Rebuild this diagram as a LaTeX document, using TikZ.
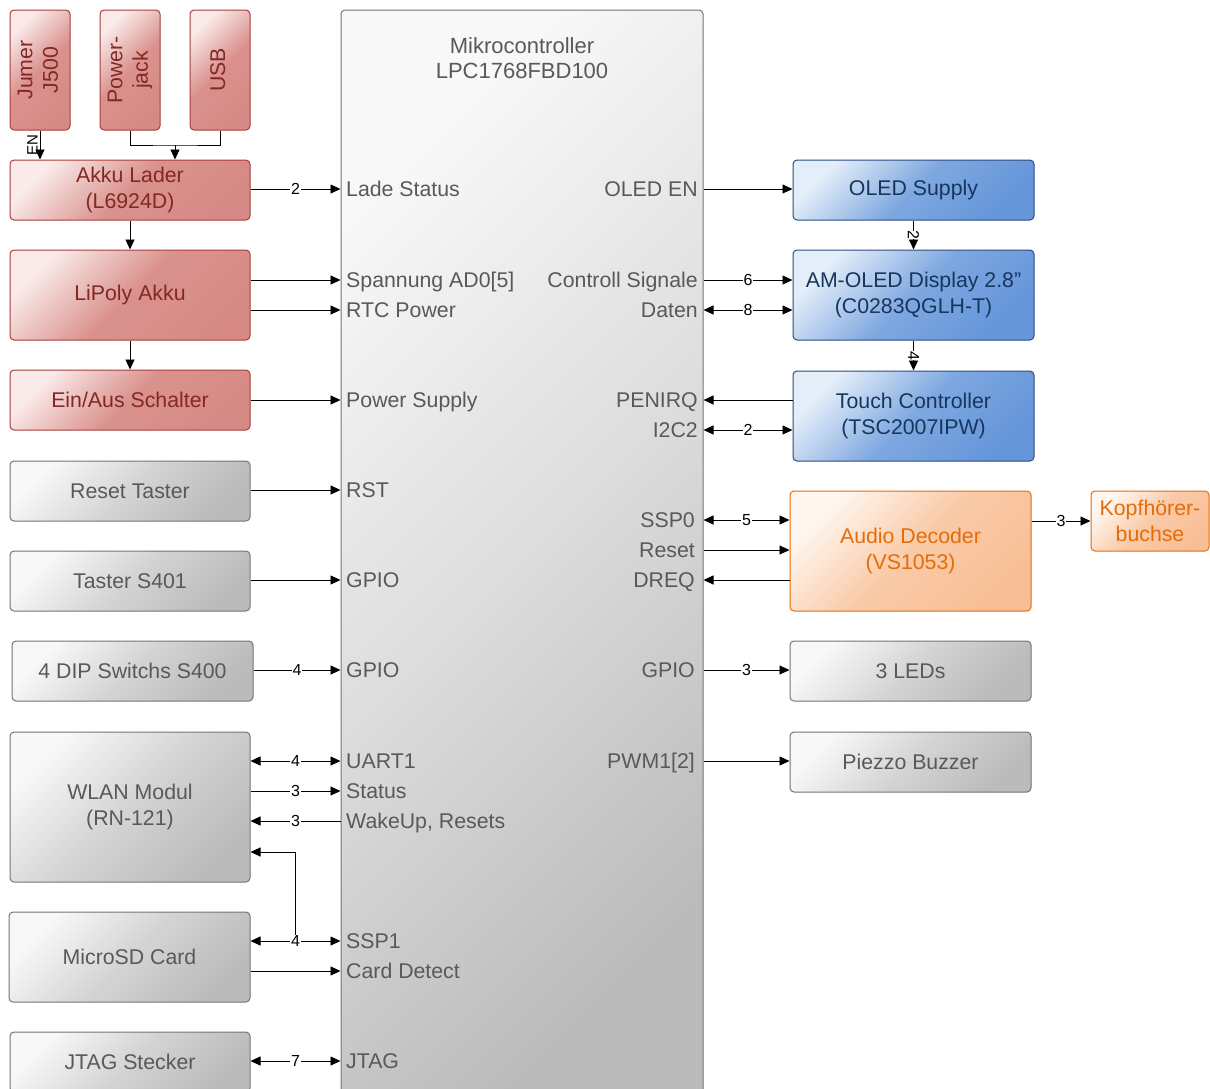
\documentclass[tikz,border=0pt]{standalone}
\usepackage{graphicx}
\usepackage{fontspec}
\setmainfont{Liberation Sans}
\usetikzlibrary{arrows.meta}
\definecolor{redline}{HTML}{A63E3A}
\definecolor{redtext}{HTML}{832824}
\definecolor{redlight}{HTML}{FAEAE9}
\definecolor{reddark}{HTML}{D78A85}
\definecolor{grayline}{HTML}{747474}
\definecolor{graytext}{HTML}{595959}
\definecolor{graylight}{HTML}{F8F8F8}
\definecolor{graydark}{HTML}{BBBBBB}
\definecolor{blueline}{HTML}{2C4B82}
\definecolor{bluetext}{HTML}{17365D}
\definecolor{bluelight}{HTML}{E4EEF9}
\definecolor{bluedark}{HTML}{6596DA}
\definecolor{orangeline}{HTML}{E46C0A}
\definecolor{orangelight}{HTML}{FFF6EF}
\definecolor{orangedark}{HTML}{F8BF96}
\newcommand{\vtext}[1]{\rotatebox{90}{\begin{tabular}{@{}c@{}}#1\end{tabular}}}

\begin{document}
\begin{tikzpicture}[x=1pt,y=-1pt,
  box/.style={draw, rounded corners=4pt, line width=1pt, inner sep=0pt, align=center, font=\fontsize{21.3}{25.5}\selectfont},
  redbox/.style={box, draw=redline, text=redtext, top color=redlight, bottom color=reddark, middle color=reddark!92!redlight, shading angle=45},
  graybox/.style={box, draw=grayline, text=graytext, top color=graylight, bottom color=graydark, middle color=graydark!60!graylight, shading angle=45},
  bluebox/.style={box, draw=blueline, text=bluetext, top color=bluelight, bottom color=bluedark, middle color=bluedark!80!bluelight, shading angle=45},
  orangebox/.style={box, draw=orangeline, text=orangeline, top color=orangelight, bottom color=orangedark, middle color=orangedark!80!orangelight, shading angle=45},
  pinl/.style={anchor=west, inner sep=0pt, text height=15pt, text depth=0pt, text=graytext, font=\fontsize{21.3}{25}\selectfont},
  pinr/.style={pinl, anchor=east},
  lbl/.style={fill=white, inner sep=1pt, font=\fontsize{16}{16}\selectfont},
  wire/.style={line width=0.9pt},
  arr/.style={wire, -{Triangle[length=10pt,width=9pt]}},
  darr/.style={wire, {Triangle[length=10pt,width=9pt]}-{Triangle[length=10pt,width=9pt]}}]
\useasboundingbox (0,0) rectangle (1210,1088);
\clip (0,0) rectangle (1210,1088);

\node[graybox, minimum width=362pt, minimum height=1100pt, middle color=graydark!45!graylight] (mcu) at (522,560) {};
\node[text=graytext, align=center, font=\fontsize{22}{25}\selectfont] (title) at (522,58) {Mikrocontroller\\LPC1768FBD100};

\node[redbox, minimum width=60pt, minimum height=120pt] (jumer) at (40,70) {\vtext{Jumer\\J500}};
\node[redbox, minimum width=60pt, minimum height=120pt] (pjack) at (130,70) {\vtext{Power-\\jack}};
\node[redbox, minimum width=60pt, minimum height=120pt] (usb) at (220,70) {\vtext{USB}};
\node[redbox, minimum width=240pt, minimum height=60pt] (akku) at (130,190) {Akku Lader\\(L6924D)};
\node[redbox, minimum width=240pt, minimum height=90pt] (lipoly) at (130,295) {LiPoly Akku};
\node[redbox, minimum width=240pt, minimum height=60pt] (einaus) at (130,400) {Ein/Aus Schalter};
\node[graybox, minimum width=240pt, minimum height=60pt] (reset) at (130,491) {Reset Taster};
\node[graybox, minimum width=240pt, minimum height=60pt] (taster) at (130,581) {Taster S401};
\node[graybox, minimum width=241pt, minimum height=60pt] (dip) at (132.5,671) {4 DIP Switchs S400};
\node[graybox, minimum width=240pt, minimum height=150pt] (wlan) at (130,807) {WLAN Modul\\(RN-121)};
\node[graybox, minimum width=241pt, minimum height=90pt] (sd) at (129.5,957) {MicroSD Card};
\node[graybox, minimum width=240pt, minimum height=60pt] (jtag) at (130,1062) {JTAG Stecker};

\node[bluebox, minimum width=241pt, minimum height=60pt] (oledsup) at (913.5,190) {OLED Supply};
\node[bluebox, minimum width=241pt, minimum height=90pt] (oled) at (913.5,295) {AM-OLED Display 2.8''\\(C0283QGLH-T)};
\node[bluebox, minimum width=241pt, minimum height=90pt] (touch) at (913.5,416) {Touch Controller\\(TSC2007IPW)};
\node[orangebox, minimum width=241pt, minimum height=120pt] (audio) at (910.5,551) {Audio Decoder\\(VS1053)};
\node[orangebox, minimum width=118pt, minimum height=60pt] (kopf) at (1150,521) {Kopfh\"orer-\\buchse};
\node[graybox, minimum width=241pt, minimum height=60pt] (leds) at (910.5,671) {3 LEDs};
\node[graybox, minimum width=241pt, minimum height=60pt] (piezo) at (910.5,762) {Piezzo Buzzer};

\node[pinl] (pLade) at (346,189) {Lade Status};
\node[pinl] (pSpann) at (346,280) {Spannung AD0[5]};
\node[pinl] (pRTC) at (346,310) {RTC Power};
\node[pinl] (pPower) at (346,400) {Power Supply};
\node[pinl] (pRST) at (346,490) {RST};
\node[pinl] (pGPIOa) at (346,580) {GPIO};
\node[pinl] (pGPIOb) at (346,670) {GPIO};
\node[pinl] (pUART) at (346,761) {UART1};
\node[pinl] (pStatus) at (346,791) {Status};
\node[pinl] (pWake) at (346,821) {WakeUp, Resets};
\node[pinl] (pSSP1) at (346,941) {SSP1};
\node[pinl] (pCard) at (346,971) {Card Detect};
\node[pinl] (pJTAG) at (346,1061) {JTAG};

\node[pinr] (qOLED) at (698,189) {OLED EN};
\node[pinr] (qCtrl) at (698,280) {Controll Signale};
\node[pinr] (qDaten) at (698,310) {Daten};
\node[pinr] (qPEN) at (698,400) {PENIRQ};
\node[pinr] (qI2C) at (698,430) {I2C2};
\node[pinr] (qSSP0) at (695,520) {SSP0};
\node[pinr] (qReset) at (695,550) {Reset};
\node[pinr] (qDREQ) at (695,580) {DREQ};
\node[pinr] (qGPIO) at (695,670) {GPIO};
\node[pinr] (qPWM) at (695,761) {PWM1[2]};

\draw[arr] (jumer.south) -- (jumer.south |- akku.north) node[midway, rotate=90, anchor=south, inner sep=2pt, font=\fontsize{15}{15}\selectfont] {EN};
\coordinate (merge) at (175,145);
\draw[wire] (pjack.south) |- (merge) -| (usb.south);
\draw[arr] (merge) -- (merge |- akku.north);
\draw[arr] (akku.south) -- (lipoly.north);
\draw[arr] (lipoly.south) -- (einaus.north);

\draw[arr] (akku.east |- pLade) -- (mcu.west |- pLade) node[lbl, midway] {2};
\draw[arr] (lipoly.east |- pSpann) -- (mcu.west |- pSpann);
\draw[arr] (lipoly.east |- pRTC) -- (mcu.west |- pRTC);
\draw[arr] (einaus.east |- pPower) -- (mcu.west |- pPower);
\draw[arr] (reset.east |- pRST) -- (mcu.west |- pRST);
\draw[arr] (taster.east |- pGPIOa) -- (mcu.west |- pGPIOa);
\draw[arr] (dip.east |- pGPIOb) -- (mcu.west |- pGPIOb) node[lbl, midway] {4};
\draw[darr] (wlan.east |- pUART) -- (mcu.west |- pUART) node[lbl, midway] {4};
\draw[arr] (wlan.east |- pStatus) -- (mcu.west |- pStatus) node[lbl, midway] {3};
\draw[arr] (mcu.west |- pWake) -- (wlan.east |- pWake) node[lbl, midway] {3};
\path (sd.east |- pSSP1) -- (mcu.west |- pSSP1) coordinate[pos=0.5] (branch);
\draw[arr] (branch) |- ([yshift=-45pt]wlan.east);
\draw[darr] (sd.east |- pSSP1) -- (mcu.west |- pSSP1) node[lbl, midway] {4};
\draw[arr] (sd.east |- pCard) -- (mcu.west |- pCard);
\draw[darr] (jtag.east |- pJTAG) -- (mcu.west |- pJTAG) node[lbl, midway] {7};

\draw[arr] (mcu.east |- qOLED) -- (oledsup.west |- qOLED);
\draw[arr] (oledsup.south) -- (oled.north) node[lbl, midway, rotate=-90, inner sep=0pt] {2};
\draw[arr] (mcu.east |- qCtrl) -- (oled.west |- qCtrl) node[lbl, midway] {6};
\draw[darr] (mcu.east |- qDaten) -- (oled.west |- qDaten) node[lbl, midway] {8};
\draw[arr] (oled.south) -- (touch.north) node[lbl, midway, rotate=-90, inner sep=0pt] {4};
\draw[arr] (touch.west |- qPEN) -- (mcu.east |- qPEN);
\draw[darr] (mcu.east |- qI2C) -- (touch.west |- qI2C) node[lbl, midway] {2};
\draw[darr] (mcu.east |- qSSP0) -- (audio.west |- qSSP0) node[lbl, midway] {5};
\draw[arr] (mcu.east |- qReset) -- (audio.west |- qReset);
\draw[arr] (audio.west |- qDREQ) -- (mcu.east |- qDREQ);
\draw[arr] (audio.east |- kopf.west) -- (kopf.west) node[lbl, midway] {3};
\draw[arr] (mcu.east |- qGPIO) -- (leds.west |- qGPIO) node[lbl, midway] {3};
\draw[arr] (mcu.east |- qPWM) -- (piezo.west |- qPWM);
\end{tikzpicture}
\end{document}
